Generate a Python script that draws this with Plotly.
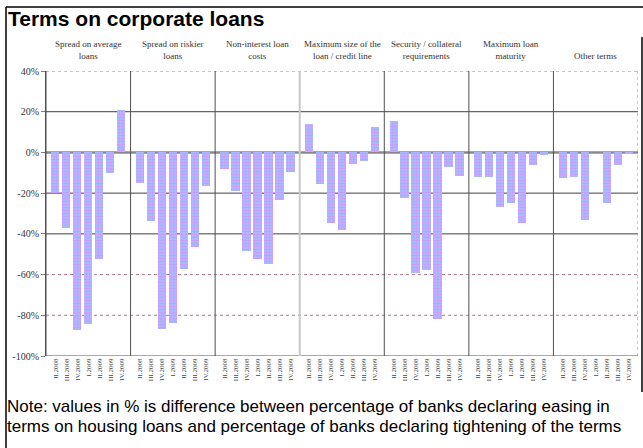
import plotly.graph_objects as go

groups = ["Spread on average<br>loans", "Spread on riskier<br>loans", "Non-interest loan<br>costs",
          "Maximum size of the<br>loan / credit line", "Security / collateral<br>requirements",
          "Maximum loan<br>maturity", "Other terms"]
quarters = ["II.2008", "III.2008", "IV.2008", "I.2009", "II.2009", "III.2009", "IV.2009"]
values = [
    [-20, -37, -87, -84.5, -52.5, -10.3, 21],
    [-14.8, -33.5, -86.5, -83.7, -57.4, -46.3, -16.7],
    [-8.2, -18.9, -48.4, -52.5, -54.8, -23.3, -9.5],
    [14.1, -15.6, -34.5, -38, -5.9, -4.4, 12.5],
    [15.3, -22.2, -59, -57.8, -81.9, -7.2, -11.5],
    [-12.1, -12.1, -26.7, -24.6, -34.5, -6.2, -1.5],
    [-12.8, -12, -33.2, 0, -24.6, -6.2, -1],
]
y_ticks = [40, 20, 0, -20, -40, -60, -80, -100]
note_lines = ["Note: values in % is difference between percentage of banks declaring easing in",
              "terms on housing loans and percentage of banks declaring tightening of the terms"]

W = 7.7
nq = len(quarters)
xs, ys, tickvals, ticktext = [], [], [], []
for g, vals in enumerate(values):
    for i, v in enumerate(vals):
        xv = g * W + (W - (nq - 1)) / 2 + i
        xs.append(xv)
        ys.append(v)
        tickvals.append(xv)
        ticktext.append(quarters[i])

fig = go.Figure()
fig.add_trace(go.Bar(
    x=xs, y=ys, width=0.75,
    marker=dict(color="#9cc8ff", line=dict(width=0),
                pattern=dict(shape=".", fgcolor="#ff66ff", size=3, solidity=0.55)),
    showlegend=False, hoverinfo="skip"))

L, R, T, B = 46, 5, 71, 92
WIDTH, HEIGHT = 643, 448
pw = WIDTH - L - R
ph = HEIGHT - T - B

def px2paper_x(p):
    return (p - L) / pw

def px2paper_y(p):
    return 1 - (p - T) / ph

shapes = []
for t in y_ticks:
    if t == 0:
        shapes.append(dict(type="line", xref="paper", yref="y", x0=0, x1=1, y0=0, y1=0,
                           line=dict(color="#8a8a8a", width=2.5), layer="below"))
    elif t in (20, -20, -40):
        shapes.append(dict(type="line", xref="paper", yref="y", x0=0, x1=1, y0=t, y1=t,
                           line=dict(color="#404040", width=1), layer="below"))
    elif t == -100:
        shapes.append(dict(type="line", xref="paper", yref="y", x0=0, x1=1, y0=t, y1=t,
                           line=dict(color="#505050", width=1), layer="below"))
    else:
        shapes.append(dict(type="line", xref="paper", yref="y", x0=0, x1=1, y0=t, y1=t,
                           line=dict(color="#b07a8a", width=1, dash="dot"), layer="below"))
for g in range(len(groups) + 1):
    col = "#505050"
    wd = 1
    dash = "solid"
    if g == 3:
        col, wd = "#c8c8c8", 2
    if g == len(groups):
        col, dash = "#b07a8a", "dot"
    shapes.append(dict(type="line", xref="x", yref="paper", x0=g * W, x1=g * W, y0=0, y1=1,
                       line=dict(color=col, width=wd, dash=dash), layer="below"))
shapes.append(dict(type="line", xref="paper", yref="paper",
                   x0=px2paper_x(6), x1=px2paper_x(643), y0=px2paper_y(7), y1=px2paper_y(7),
                   line=dict(color="black", width=1.5)))
shapes.append(dict(type="line", xref="paper", yref="paper",
                   x0=px2paper_x(6), x1=px2paper_x(6), y0=px2paper_y(7), y1=px2paper_y(448),
                   line=dict(color="black", width=1.5)))
shapes.append(dict(type="line", xref="paper", yref="paper",
                   x0=px2paper_x(642), x1=px2paper_x(642), y0=px2paper_y(37), y1=px2paper_y(392),
                   line=dict(color="black", width=1.5)))

annotations = []
for g, name in enumerate(groups):
    annotations.append(dict(x=g * W + W / 2, xref="x", y=1, yref="paper", yanchor="bottom",
                            yshift=8, text=name, showarrow=False, align="center",
                            font=dict(family="Liberation Serif, Times New Roman, serif",
                                      size=9, color="#333333")))
annotations.append(dict(x=px2paper_x(6), xref="paper", y=px2paper_y(19), yref="paper",
                        xanchor="left", yanchor="middle", showarrow=False,
                        text="<b>Terms on corporate loans</b>",
                        font=dict(family="Liberation Sans, Arial, sans-serif", size=21, color="black")))
for k, line in enumerate(note_lines):
    annotations.append(dict(x=px2paper_x(5), xref="paper", y=px2paper_y(407 + 19.5 * k), yref="paper",
                            xanchor="left", yanchor="middle", showarrow=False, align="left",
                            text=line,
                            font=dict(family="Liberation Sans, Arial, sans-serif", size=17, color="black")))

fig.update_layout(
    width=WIDTH, height=HEIGHT,
    margin=dict(l=L, r=R, t=T, b=B),
    paper_bgcolor="white", plot_bgcolor="white",
    shapes=shapes, annotations=annotations,
    bargap=0,
    xaxis=dict(range=[0, len(groups) * W], tickmode="array", tickvals=tickvals, ticktext=ticktext,
               tickangle=-90, tickfont=dict(family="Liberation Serif, Times New Roman, serif", size=7,
                                            color="#444444"),
               showgrid=False, zeroline=False, showline=False, ticks="", fixedrange=True),
    yaxis=dict(range=[-100, 40], tickmode="array", tickvals=y_ticks,
               ticktext=[f"{t}%" for t in y_ticks],
               tickfont=dict(family="Liberation Serif, Times New Roman, serif", size=10, color="#333333"),
               showgrid=False, zeroline=False, showline=True, linecolor="#505050", linewidth=1,
               ticks="outside", ticklen=4, tickcolor="#808080", fixedrange=True),
)

fig.write_html("out.html")
